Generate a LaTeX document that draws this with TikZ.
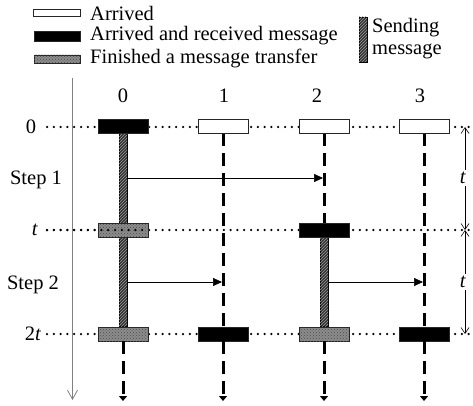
\documentclass[tikz,border=0pt]{standalone}
\usepackage{fontspec}
\setmainfont{Liberation Serif}
\usetikzlibrary{arrows.meta,patterns,backgrounds}
\begin{document}
\begin{tikzpicture}[x=1pt,y=-1pt,
  box/.style={draw=black!85, line width=0.7pt, minimum width=50pt, minimum height=14pt, inner sep=0pt},
  arrbox/.style={box, fill=white},
  recvbox/.style={box, fill=black},
  finbox/.style={box, fill=black!45, postaction={pattern=crosshatch dots, pattern color=black!70}},
  sendbar/.style={draw=black, line width=0.5pt, fill=black!80, postaction={pattern=north east lines, pattern color=gray!80}},
  dotline/.style={line width=2.5pt, line cap=round, dash pattern=on 0pt off 6.8pt},
  dashv/.style={line width=3pt, dash pattern=on 13pt off 7pt},
  lbl/.style={font=\fontsize{20.5}{22}\selectfont, inner sep=0pt},
  msg/.style={line width=0.6pt, -{Triangle[length=9pt,width=8pt]}},
  tail/.style={dashv, -{Triangle[length=5pt,width=8pt]}},
  span/.style={line width=0.6pt, {Straight Barb[length=6pt,width=8pt]}-{Straight Barb[length=6pt,width=8pt]}},
]
\useasboundingbox (0,0) rectangle (473,406);

% legend
\node[arrbox, minimum width=47pt, minimum height=7pt] (l1) at (56.5,13) {};
\node[lbl, anchor=west] (l1t) at (90,13.5) {Arrived};
\node[recvbox, minimum width=46pt, minimum height=10pt] (l2) at (57,36.5) {};
\node[lbl, anchor=west] (l2t) at (90,36) {Arrived and received message};
\node[finbox, minimum width=46pt, minimum height=8pt] (l3) at (57,59) {};
\node[lbl, anchor=west] (l3t) at (90,58.5) {Finished a message transfer};
\coordinate (lb0) at (359,17); \coordinate (lb1) at (367,62);
\path[sendbar] (lb0) rectangle (lb1);
\node[lbl, anchor=west] (l4a) at (372,28) {Sending};
\node[lbl, anchor=west] (l4b) at (372,51) {message};

% left time axis
\coordinate (ax0) at (72.5,78);
\coordinate (ax1) at (72.5,400);
\draw[gray, line width=0.8pt, -{Straight Barb[length=9pt,width=10pt]}] (ax0) -- (ax1);

% row labels
\node[lbl] (r0l) at (31,127) {0};
\node[lbl] (s1l) at (36,180) {Step 1};
\node[lbl] (r1l) at (35,230) {\textit{t}};
\node[lbl] (s2l) at (33,285) {Step 2};
\node[lbl] (r2l) at (33,334) {2\textit{t}};

% column labels
\node[lbl] (c0) at (123,96) {0};
\node[lbl] (c1) at (224,96) {1};
\node[lbl] (c2) at (317,96) {2};
\node[lbl] (c3) at (420,96) {3};

% boxes
\node[recvbox] (b00) at (123,126) {};
\node[arrbox]  (b01) at (223,126) {};
\node[arrbox]  (b02) at (324,126) {};
\node[arrbox]  (b03) at (424,126) {};
\node[finbox]  (b10) at (123,230) {};
\node[recvbox] (b12) at (324,230) {};
\node[finbox]  (b20) at (123,334) {};
\node[recvbox] (b21) at (223,334) {};
\node[finbox]  (b22) at (324,334) {};
\node[recvbox] (b23) at (424,334) {};

\begin{scope}[on background layer]
  % dotted time lines
  \coordinate (d0a) at (47,127); \coordinate (d0b) at (470,127);
  \coordinate (d1a) at (47,230); \coordinate (d1b) at (470,230);
  \coordinate (d2a) at (47,334); \coordinate (d2b) at (470,334);
  \draw[dotline] (d0a) -- (d0b);
  \draw[dotline] (d1a) -- (d1b);
  \draw[dotline] (d2a) -- (d2b);
  % dashed life lines
  \draw[dashv] (b01.south) -- (b21.north);
  \draw[dashv] (b02.south) -- (b12.north);
  \draw[dashv] (b03.south) -- (b23.north);
  % sending bars
  \path[sendbar] ([xshift=-4pt]b00.south) rectangle ([xshift=4pt]b20.north);
  \path[sendbar] ([xshift=-4pt]b12.south) rectangle ([xshift=4pt]b22.north);
\end{scope}
% dots visible across the gray box at row t
\draw[dotline] (d1a) -- (b10.east);

% messages
\coordinate (m1s) at (127.5,178); \coordinate (m1e) at (323,178);
\coordinate (m2s) at (127.5,282); \coordinate (m2e) at (222,282);
\coordinate (m3s) at (328.5,282); \coordinate (m3e) at (423,282);
\draw[msg] (m1s) -- (m1e);
\draw[msg] (m2s) -- (m2e);
\draw[msg] (m3s) -- (m3e);

% tails
\coordinate (e0) at (123,401); \coordinate (e1) at (223,401);
\coordinate (e2) at (324,401); \coordinate (e3) at (424,401);
\draw[tail] (b20.south) -- (e0);
\draw[tail] (b21.south) -- (e1);
\draw[tail] (b22.south) -- (e2);
\draw[tail] (b23.south) -- (e3);

% right-hand spans
\coordinate (s0) at (465,127);
\coordinate (s1) at (465,230);
\coordinate (s2) at (465,334);
\draw[span] (s0) -- (s1);
\draw[span] (s1) -- (s2);
\node[lbl, fill=white, inner sep=2pt] (t1) at (463,178) {\textit{t}};
\node[lbl, fill=white, inner sep=2pt] (t2) at (463,282) {\textit{t}};
\end{tikzpicture}
\end{document}
